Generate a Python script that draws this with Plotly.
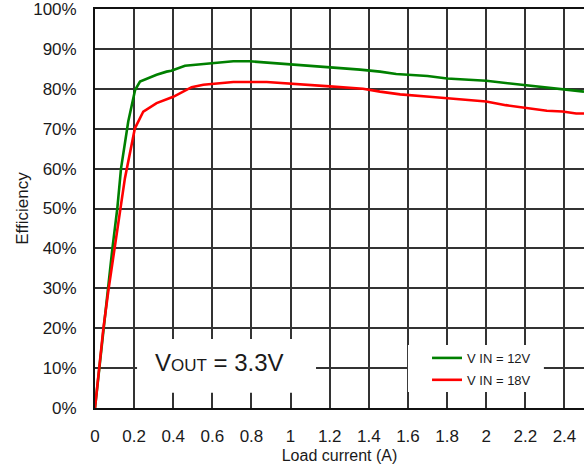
import plotly.graph_objects as go

# Load current (A) and efficiency (%) for VIN = 12 V
i_12v = [0, 0.022, 0.043, 0.065, 0.089, 0.114, 0.133, 0.17, 0.205, 0.23, 0.315, 0.366, 0.39,
         0.46, 0.537, 0.605, 0.707, 0.79, 1.0, 1.2, 1.355, 1.457, 1.54, 1.70, 1.80, 2.0,
         2.19, 2.31, 2.36, 2.41, 2.5]
eff_12v = [0, 10, 20, 30, 40, 50, 60, 71.8, 79.7, 81.8, 83.5, 84.3, 84.5,
           85.8, 86.2, 86.5, 86.9, 86.9, 86.1, 85.5, 84.8, 84.3, 83.7, 83.2, 82.6, 82.0,
           81.0, 80.4, 80.1, 79.7, 79.3]

# Load current (A) and efficiency (%) for VIN = 18 V
i_18v = [0, 0.022, 0.043, 0.07, 0.1, 0.128, 0.153, 0.204, 0.247, 0.315, 0.40, 0.494, 0.554,
         0.707, 0.878, 1.2, 1.37, 1.457, 1.56, 1.71, 1.88, 2.0, 2.10, 2.21, 2.31, 2.39,
         2.46, 2.5]
eff_18v = [0, 10, 20, 30, 40, 50, 57.6, 70.1, 74.3, 76.4, 78.0, 80.4, 81.0,
           81.7, 81.7, 80.6, 80.0, 79.3, 78.6, 78.0, 77.2, 76.8, 75.9, 75.1, 74.5, 74.3,
           73.8, 73.8]

x_ticks = [0, 0.2, 0.4, 0.6, 0.8, 1, 1.2, 1.4, 1.6, 1.8, 2, 2.2, 2.4]
x_tick_labels = ["0", "0.2", "0.4", "0.6", "0.8", "1", "1.2", "1.4", "1.6", "1.8", "2", "2.2", "2.4"]
y_ticks = [0, 10, 20, 30, 40, 50, 60, 70, 80, 90, 100]
y_tick_labels = [f"{v}%" for v in y_ticks]

FONT = "Liberation Sans, Arial, sans-serif"
GRID = "#333333"

fig = go.Figure()
fig.add_trace(go.Scatter(x=i_12v, y=eff_12v, mode="lines", name="V IN = 12V",
                         line=dict(color="#008000", width=2.6), legendgroup="a"))
fig.add_trace(go.Scatter(x=i_18v, y=eff_18v, mode="lines", name="V IN = 18V",
                         line=dict(color="#ff0000", width=2.6), legendgroup="b"))

# white boxes hiding the grid behind the annotation and the legend
fig.add_shape(type="rect", x0=0.215, x1=1.13, y0=3.8, y1=17.3, xref="x", yref="y",
              fillcolor="white", line=dict(width=0), layer="between")
fig.add_shape(type="rect", x0=1.60, x1=2.295, y0=4.0, y1=15.8, xref="x", yref="y",
              fillcolor="white", line=dict(width=0), layer="between")

fig.add_annotation(x=0.634, y=11.3, xref="x", yref="y", showarrow=False,
                   text="V<span style='font-size:17px'>OUT</span> = 3.3V",
                   font=dict(family=FONT, size=24, color="#1a1a1a"))

fig.update_layout(
    width=584, height=470,
    margin=dict(l=95, r=0, t=9, b=62, autoexpand=False),
    paper_bgcolor="white", plot_bgcolor="white",
    font=dict(family=FONT, size=16, color="#1a1a1a"),
    showlegend=True,
    legend=dict(x=0.679, y=0.163, xanchor="left", yanchor="top",
                bgcolor="rgba(0,0,0,0)", borderwidth=0,
                font=dict(family=FONT, size=13, color="#1a1a1a"),
                tracegroupgap=2, traceorder="grouped"),
)
fig.update_xaxes(range=[0, 2.5], tickvals=x_ticks, ticktext=x_tick_labels,
                 automargin=False,
                 showgrid=True, gridcolor=GRID, gridwidth=1.6,
                 showline=True, linecolor="#111111", linewidth=1.8, mirror=True,
                 zeroline=False, ticks="", ticklabelstandoff=12,
                 ticklabeloverflow="allow",
                 title=dict(text="Load current (A)", standoff=5,
                            font=dict(family=FONT, size=16)),
                 tickfont=dict(family=FONT, size=17))
fig.update_yaxes(range=[0, 100], tickvals=y_ticks, ticktext=y_tick_labels,
                 automargin=False,
                 showgrid=True, gridcolor=GRID, gridwidth=1.6,
                 showline=True, linecolor="#111111", linewidth=1.8,
                 zeroline=False, ticks="", ticklabelstandoff=13,
                 ticklabeloverflow="allow",
                 title=dict(text="Efficiency", standoff=0,
                            font=dict(family=FONT, size=17)),
                 tickfont=dict(family=FONT, size=17))

fig.write_html("out.html", config={"displayModeBar": False},
               post_script="document.body.style.margin='0';document.body.style.overflow='hidden';")
